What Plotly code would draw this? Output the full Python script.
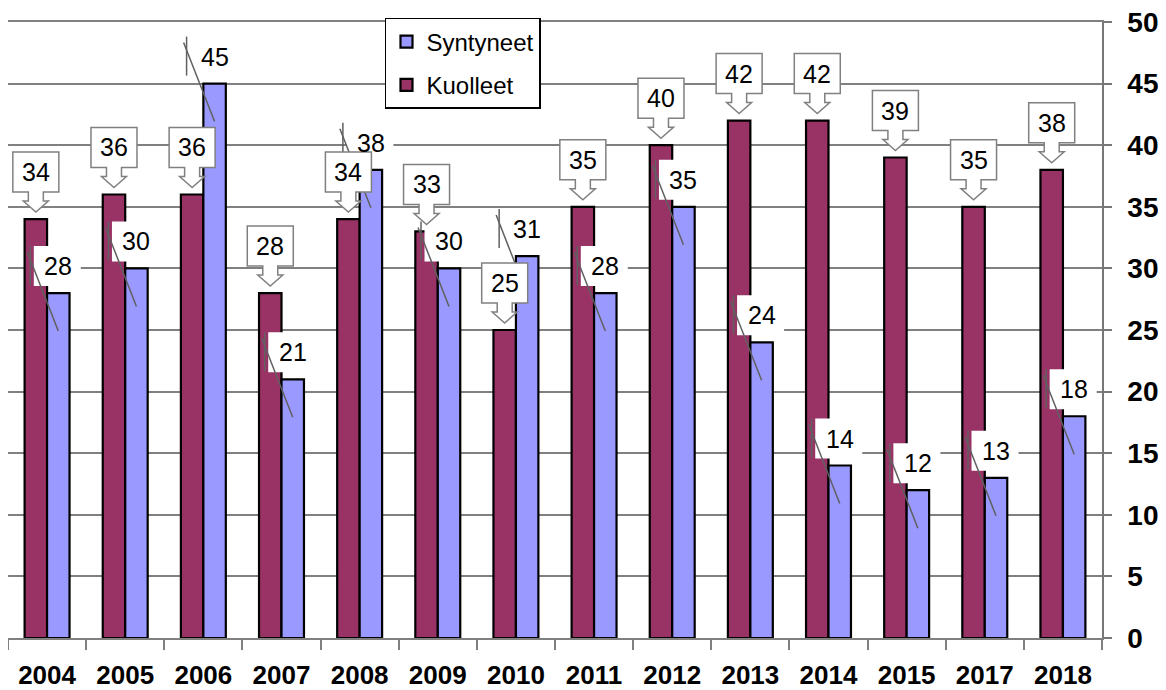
import plotly.graph_objects as go

years = ["2004", "2005", "2006", "2007", "2008", "2009", "2010",
         "2011", "2012", "2013", "2014", "2015", "2017", "2018"]
kuolleet = [34, 36, 36, 28, 34, 33, 25, 35, 40, 42, 42, 39, 35, 38]
syntyneet = [28, 30, 45, 21, 38, 30, 31, 28, 35, 24, 14, 12, 13, 18]

C_K = "#993366"
C_S = "#9999FF"
FONT = "Arial, Liberation Sans, sans-serif"
BARGAP = 0.425
OFF = (1 - BARGAP) / 4  # bar centre offset in category units

fig = go.Figure()
fig.add_trace(go.Bar(x=years, y=kuolleet, name="Kuolleet", legendgroup="k",
                     legendrank=2,
                     marker=dict(color=C_K, line=dict(color="black", width=2.2))))
fig.add_trace(go.Bar(x=years, y=syntyneet, name="Syntyneet", legendgroup="s",
                     legendrank=1,
                     marker=dict(color=C_S, line=dict(color="black", width=2.2))))

shapes = []
annotations = []

# Syntyneet labels: white box + odd leader lines
for i, v in enumerate(syntyneet):
    cx = i + OFF
    common = dict(xref="x", yref="y", xsizemode="pixel", ysizemode="pixel",
                  xanchor=cx, yanchor=v, layer="above")
    shapes.append(dict(type="rect", x0=-24.5, x1=22.5, y0=7, y1=47,
                       fillcolor="white", line=dict(width=0), **common))
    shapes.append(dict(type="line", x0=-28, x1=-28, y0=8, y1=47,
                       line=dict(color="#606060", width=1.5), **common))
    shapes.append(dict(type="line", x0=-31, x1=0, y0=41, y1=-38,
                       line=dict(color="#606060", width=1.5), **common))
    annotations.append(dict(x=cx, y=v, xref="x", yref="y", yshift=27,
                            text=str(v), showarrow=False,
                            font=dict(family=FONT, size=25, color="black")))

# Kuolleet labels: down-arrow callouts
callout = ("M -23,27 L -23,67 L 23,67 L 23,27 L 7.5,27 L 7.5,18 L 12.5,18 "
           "L 0,7 L -12.5,18 L -7.5,18 L -7.5,27 Z")
for i, v in enumerate(kuolleet):
    cx = i - OFF
    shapes.append(dict(type="path", path=callout, xref="x", yref="y",
                       xsizemode="pixel", ysizemode="pixel", xanchor=cx, yanchor=v,
                       fillcolor="white", line=dict(color="#808080", width=1.5),
                       layer="above"))
    annotations.append(dict(x=cx, y=v, xref="x", yref="y", yshift=47,
                            text=str(v), showarrow=False,
                            font=dict(family=FONT, size=25, color="black")))

# page body has an 8px default margin, so the figure is sized/offset for it
fig.update_layout(
    width=1158, height=682,
    margin=dict(l=0, r=64, t=14, b=52, autoexpand=False),
    paper_bgcolor="white", plot_bgcolor="white",
    barmode="group", bargap=BARGAP, bargroupgap=0,
    font=dict(family=FONT, color="black"),
    shapes=shapes, annotations=annotations,
    showlegend=True,
    legend=dict(x=0.3446, y=1.0065, xanchor="left", yanchor="top",
                traceorder="grouped", tracegroupgap=9, itemwidth=30,
                bgcolor="white", bordercolor="black", borderwidth=1.5,
                font=dict(family=FONT, size=24, color="black")),
    xaxis=dict(type="category", showline=True, linecolor="#808080", linewidth=1.5,
               mirror=True, ticks="outside", tickson="boundaries", ticklen=10,
               tickcolor="#808080", tickwidth=1.5, showgrid=False,
               tickfont=dict(family=FONT, size=26, color="black", weight="bold"),
               ticklabelstandoff=13, automargin=False, ticklabeloverflow="allow"),
    yaxis=dict(side="right", range=[0, 50], dtick=5, showline=True,
               linecolor="#777777", linewidth=1.5, mirror=True,
               ticks="outside", ticklen=8, tickcolor="#777777", tickwidth=1.5,
               showgrid=True, gridcolor="#808080", gridwidth=1.5, zeroline=False,
               tickfont=dict(family=FONT, size=28, color="black", weight="bold"),
               ticklabelstandoff=10, automargin=False, ticklabeloverflow="allow"),
)

fig.write_html("out.html")
